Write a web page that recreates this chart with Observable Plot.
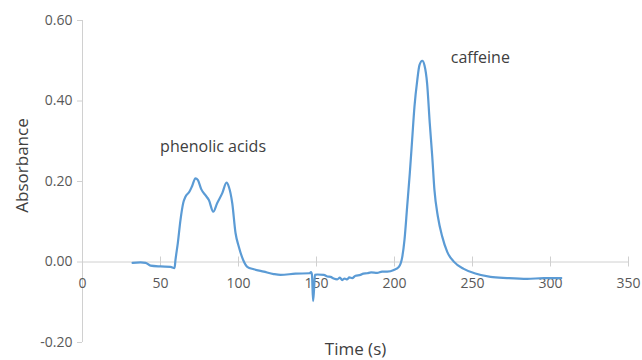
<!DOCTYPE html>
<html>
<head>
<meta charset="utf-8">
<script src="https://cdn.jsdelivr.net/npm/d3@7"></script>
<script src="https://cdn.jsdelivr.net/npm/@observablehq/plot@0.6"></script>
<style>
  html, body { margin: 0; padding: 0; background: #fff; }
  svg { display: block; }
</style>
</head>
<body>
<div id="chart"></div>
<script>
// Time (s)
const time = [32.1, 37.2, 40.4, 43.6, 50, 56.4, 59, 59.6, 61.1, 62.8, 64.6, 66, 68.6, 70.3, 72.4, 73.9,
  76.1, 78.8, 81, 83.8, 86.3, 89.6, 92.3, 93.8, 96, 98.1, 100.2, 103, 105.6, 109.8, 116.2, 122.6,
  126.9, 136.5, 145.5, 146.5, 147.1, 147.8, 148.4, 149, 150.4, 154.7, 157, 159, 161, 163.3, 165,
  166.5, 168, 169.7, 171, 172.9, 175, 178.2, 180, 182.5, 185, 188.9, 192, 195.3, 199.6, 202.8,
  204.9, 206.4, 208.1, 209.8, 211.3, 212.8, 214.6, 216, 217.8, 219.2, 220.9, 222.6, 224.2, 225.6,
  227.8, 230.6, 233.8, 238, 244.4, 251.3, 261.5, 272.2, 285, 295.7, 306.9];
// Absorbance
const absorbance = [-0.002, -0.001, -0.002, -0.009, -0.011, -0.012, -0.015, 0.005, 0.047, 0.104, 0.147, 0.162, 0.175, 0.189, 0.208, 0.204,
  0.181, 0.166, 0.154, 0.125, 0.146, 0.171, 0.197, 0.187, 0.146, 0.072, 0.038, 0.005, -0.012, -0.018, -0.024, -0.030,
  -0.032, -0.029, -0.028, -0.025, -0.032, -0.097, -0.070, -0.032, -0.031, -0.032, -0.036, -0.037, -0.041, -0.043, -0.039,
  -0.045, -0.041, -0.043, -0.038, -0.040, -0.034, -0.032, -0.029, -0.028, -0.026, -0.027, -0.024, -0.024, -0.020, -0.012,
  0.011, 0.055, 0.137, 0.220, 0.303, 0.386, 0.452, 0.489, 0.500, 0.489, 0.444, 0.345, 0.262, 0.179,
  0.113, 0.063, 0.025, 0.001, -0.017, -0.028, -0.037, -0.040, -0.042, -0.040, -0.040];

const xTicks = [0, 50, 100, 150, 200, 250, 300, 350];
const yTicks = [-0.2, 0, 0.2, 0.4, 0.6];
const annotations = [
  {label: "phenolic acids", t: 83.7, a: 0.285},
  {label: "caffeine", t: 255, a: 0.507}
];

const data = time.map((t, i) => ({t, a: absorbance[i]}));
const font = "'Open Sans', 'Noto Sans', sans-serif";
const axisColor = "#d0d0d0";
const textColor = "#595959";
const halfTick = 5 / 402.5; // 5px in y units

const chart = Plot.plot({
  width: 642,
  height: 360,
  marginLeft: 82,
  marginRight: 14,
  marginTop: 20,
  marginBottom: 18,
  style: {fontFamily: font, background: "#fff"},
  x: {domain: [0, 350], axis: null},
  y: {domain: [-0.2, 0.6], axis: null},
  marks: [
    // y axis line and ticks
    Plot.ruleX([0], {stroke: axisColor, strokeWidth: 1}),
    Plot.axisY({
      ticks: yTicks, tickSize: 5, tickPadding: 5, stroke: axisColor,
      tickFormat: d => d.toFixed(2), fontSize: 14, color: textColor, label: null
    }),
    // x axis drawn at y = 0
    Plot.ruleY([0], {stroke: axisColor, strokeWidth: 1}),
    Plot.ruleX(xTicks, {x: d => d, y1: -halfTick, y2: halfTick, stroke: axisColor}),
    Plot.text(xTicks, {x: d => d, y: 0, dy: 22, text: d => String(d), fontSize: 14, fill: textColor}),
    // series
    Plot.line(data, {x: "t", y: "a", stroke: "#5b9bd5", strokeWidth: 2.2, curve: "monotone-x"}),
    // annotations
    Plot.text(annotations, {x: "t", y: "a", text: "label", fontSize: 16, fill: "#404040"}),
    // axis titles
    Plot.text(["Absorbance"], {frameAnchor: "left", textAnchor: "middle", dx: -60, dy: -16, rotate: -90, fontSize: 17, fill: "#404040"}),
    Plot.text(["Time (s)"], {frameAnchor: "bottom", dy: 12, dx: 0, fontSize: 17, fill: "#404040"})
  ]
});
document.getElementById("chart").append(chart);
</script>
</body>
</html>
